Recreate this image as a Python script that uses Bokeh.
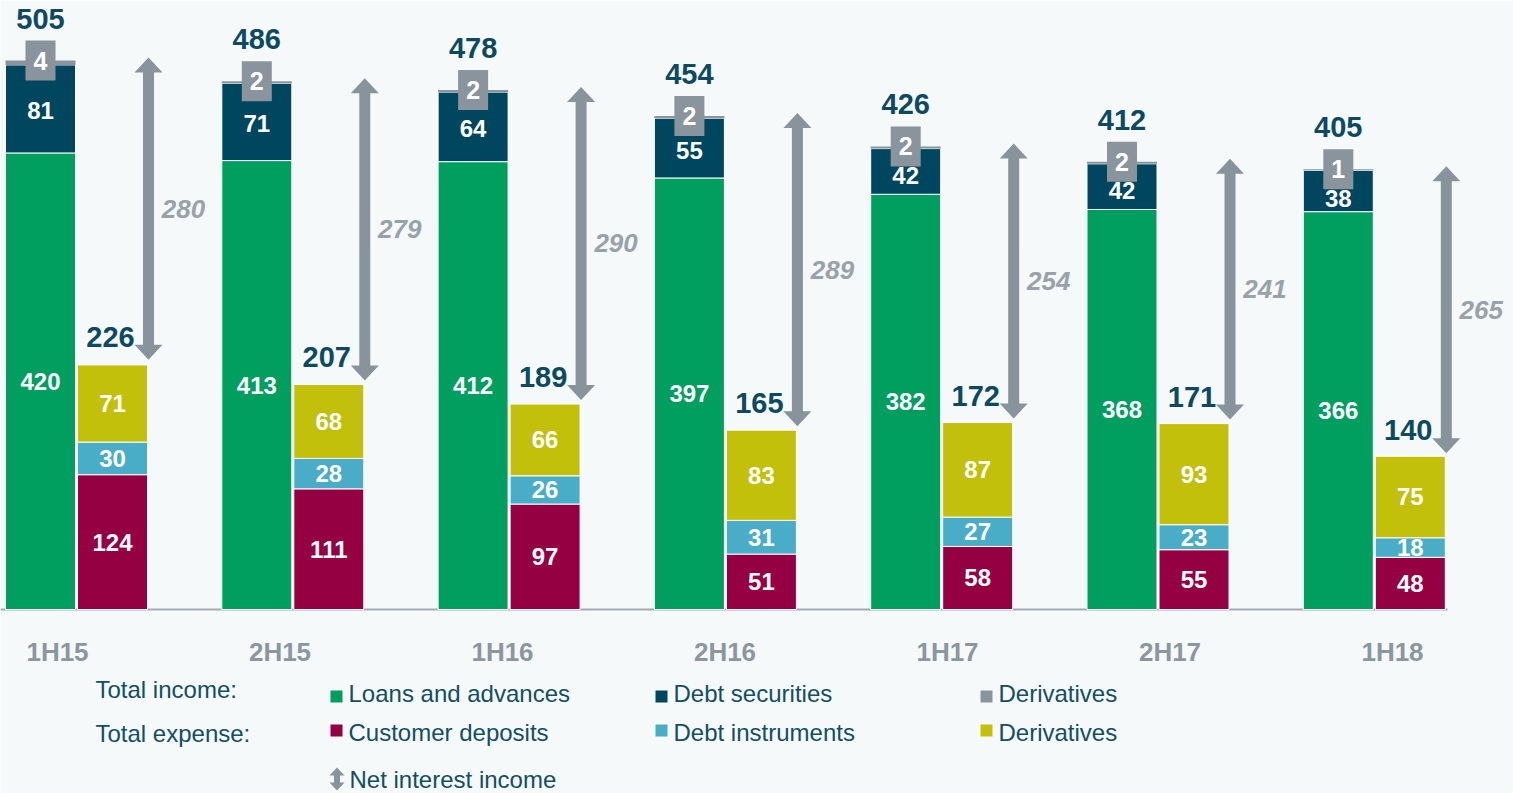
import numpy as np
from bokeh.plotting import figure
from bokeh.models import Range1d
from bokeh.core.properties import value
from bokeh.embed import file_html
from bokeh.resources import INLINE

# ---------------- data ----------------
categories = ["1H15", "2H15", "1H16", "2H16", "1H17", "2H17", "1H18"]
loans_adv = [420, 413, 412, 397, 382, 368, 366]
debt_sec = [81, 71, 64, 55, 42, 42, 38]
deriv_inc = [4, 2, 2, 2, 2, 2, 1]
total_income = [505, 486, 478, 454, 426, 412, 405]
cust_dep = [124, 111, 97, 51, 58, 55, 48]
debt_instr = [30, 28, 26, 31, 27, 23, 18]
deriv_exp = [71, 68, 66, 83, 87, 93, 75]
total_expense = [226, 207, 189, 165, 172, 171, 140]
net_interest = [280, 279, 290, 289, 254, 241, 265]

# ---------------- colours / fonts ----------------
C_LOANS = "#009E5F"
C_DEBTSEC = "#00465F"
C_DERIVI = "#8A949C"
C_DEPOS = "#950043"
C_DEBTINS = "#4AADC7"
C_DERIVE = "#C2C00B"
C_TOTAL = "#0D4A60"
C_ARROW = "#88939C"
C_NII = "#9AA2A9"
C_CAT = "#8C969E"
C_LEG = "#134E63"
BG = "#F5F9FA"
FONT = value("Liberation Sans")

# ---------------- layout ----------------
W, H = 1513, 793
PXX = 216.3       # pixels per group
PXY = 1.087       # pixels per unit value
X0 = -76 / PXX
Y1 = 609 / PXY

def dx(px):
    return px / PXX

def dy(px):
    return px / PXY

def sx(px):  # screen x -> data x
    return X0 + px / PXX

def sy(py):  # screen y -> data y
    return Y1 - py / PXY

p = figure(width=W, height=H, x_range=Range1d(X0, X0 + W / PXX),
           y_range=Range1d(Y1 - H / PXY, Y1), output_backend="svg",
           toolbar_location=None, min_border=0, x_axis_type=None, y_axis_type=None,
           background_fill_color=BG, border_fill_color=BG, outline_line_color=None)
p.xgrid.visible = False
p.ygrid.visible = False

idx = np.arange(len(categories), dtype=float)
inc_x = idx - dx(36)
exp_x = idx + dx(36)
bw = dx(70)

la = np.array(loans_adv, float)
ds = np.array(debt_sec, float)
di = np.array(deriv_inc, float)
cd = np.array(cust_dep, float)
dn = np.array(debt_instr, float)
de = np.array(deriv_exp, float)
ti = np.array(total_income, float)
te = np.array(total_expense, float)

# baseline
p.segment(x0=[sx(0)], y0=[0], x1=[sx(1447)], y1=[0], line_color="#A3ABB1", line_width=2)

# income bars
p.vbar(x=inc_x, bottom=0, top=la, width=bw, fill_color=C_LOANS, line_color="white", line_width=1)
p.vbar(x=inc_x, bottom=la, top=la + ds, width=bw, fill_color=C_DEBTSEC, line_color="white", line_width=1)
p.vbar(x=inc_x, bottom=la + ds, top=la + ds + di, width=bw, fill_color=C_DERIVI, line_color=None)

# expense bars
p.vbar(x=exp_x, bottom=0, top=cd, width=bw, fill_color=C_DEPOS, line_color="white", line_width=1)
p.vbar(x=exp_x, bottom=cd, top=cd + dn, width=bw, fill_color=C_DEBTINS, line_color="white", line_width=1)
p.vbar(x=exp_x, bottom=cd + dn, top=cd + dn + de, width=bw, fill_color=C_DERIVE, line_color="white", line_width=1)

# segment labels
def seg_text(x, y, vals, size="24px", color="white", style="bold"):
    p.text(x=x, y=y, text=[str(v) for v in vals], text_align="center", text_baseline="middle",
           text_font=FONT, text_font_size=size, text_font_style=style, text_color=color)

seg_text(inc_x, la / 2, loans_adv)
seg_text(exp_x, cd / 2, cust_dep)
seg_text(exp_x, cd + dn / 2, debt_instr)
seg_text(exp_x, cd + dn + de / 2, deriv_exp)

# derivative income boxes
top_i = la + ds + di
p.rect(x=inc_x, y=top_i, width=dx(30), height=dy(40), fill_color=C_DERIVI, line_color=None)
seg_text(inc_x, top_i, deriv_inc, size="25px")

# debt securities labels (kept clear of the box)
ds_y = np.minimum(la + ds / 2 - dy(2), top_i - dy(29))
seg_text(inc_x, ds_y, debt_sec)

# totals
seg_text(inc_x, ti + dy(42), total_income, size="29px", color=C_TOTAL)
seg_text(exp_x - dx(2), te + dy(27), total_expense, size="29px", color=C_TOTAL)

# net interest income arrows
ax = idx + dx(72)
hs, hh, hl = dx(5.5), dx(14), dy(15)
xs, ys = [], []
for x, t, b in zip(ax, ti + dy(3), te + dy(4)):
    xs.append([x - hs, x - hh, x, x + hh, x + hs, x + hs, x + hh, x, x - hh, x - hs])
    ys.append([t - hl, t - hl, t, t - hl, t - hl, b + hl, b + hl, b, b + hl, b + hl])
p.patches(xs=xs, ys=ys, fill_color=C_ARROW, line_color=None)
mid = (ti + dy(3) + te + dy(4)) / 2
p.text(x=ax + dx(35), y=mid, text=[str(v) for v in net_interest], text_align="center",
       text_baseline="middle", text_font=FONT, text_font_size="26px",
       text_font_style="bold italic", text_color=C_NII)

# category labels
lab_x = [sx(57 + i * 222.5) for i in range(len(categories))]
p.text(x=lab_x, y=[sy(651)] * len(categories), text=categories, text_align="center",
       text_baseline="middle", text_font=FONT, text_font_size="26px", text_font_style="bold",
       text_color=C_CAT)

# ---------------- legend ----------------
def ltext(px, py, t):
    p.text(x=[sx(px)], y=[sy(py)], text=[t], text_align="left", text_baseline="middle",
           text_font=FONT, text_font_size="24px", text_color=C_LEG)

def lsq(px, py, c):
    p.rect(x=[sx(px + 6)], y=[sy(py)], width=dx(12), height=dy(12), fill_color=c, line_color=None)

ltext(95, 689, "Total income:")
ltext(95, 733, "Total expense:")
legend_rows = [
    [("Loans and advances", C_LOANS), ("Debt securities", C_DEBTSEC), ("Derivatives", C_DERIVI)],
    [("Customer deposits", C_DEPOS), ("Debt instruments", C_DEBTINS), ("Derivatives", C_DERIVE)],
]
col_x = [330, 655, 980]
row_mid = [693, 732]
row_sq = [696, 730]
for r, row in enumerate(legend_rows):
    for c, (name, colr) in enumerate(row):
        lsq(col_x[c], row_sq[r], colr)
        ltext(col_x[c] + 18, row_mid[r], name)

# legend arrow icon
cx, t, b = sx(336.5), sy(767), sy(790)
s1, s2, l = dx(3), dx(7.5), dy(8)
p.patch(x=[cx - s1, cx - s2, cx, cx + s2, cx + s1, cx + s1, cx + s2, cx, cx - s2, cx - s1],
        y=[t - l, t - l, t, t - l, t - l, b + l, b + l, b, b + l, b + l],
        fill_color=C_ARROW, line_color=None)
ltext(349, 779, "Net interest income")

open("out.html", "w").write(file_html(p, INLINE))
